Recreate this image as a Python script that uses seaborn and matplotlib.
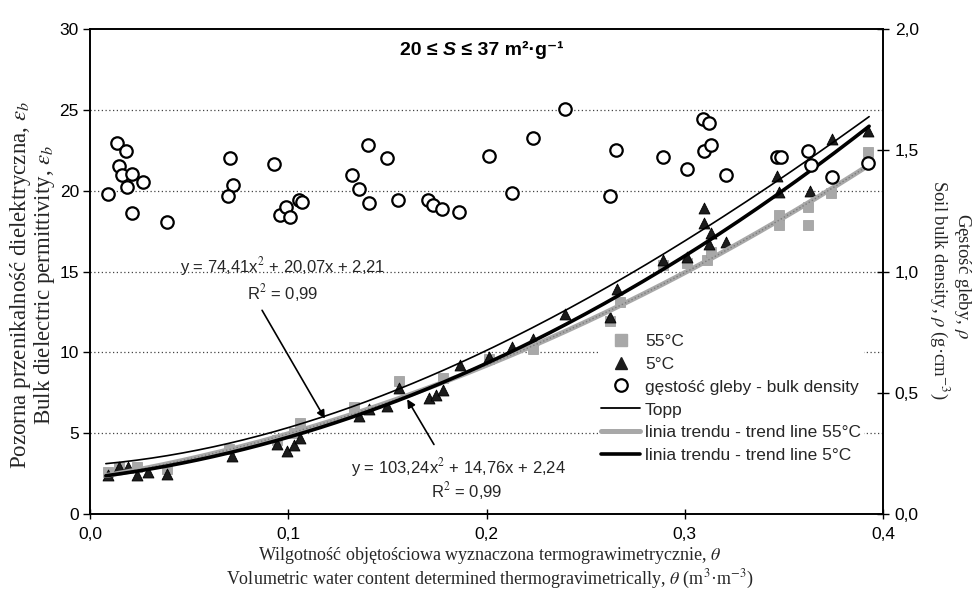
import numpy as np
import pandas as pd
import seaborn as sns
import matplotlib
matplotlib.use("Agg")
import matplotlib.pyplot as plt
from matplotlib.lines import Line2D
from matplotlib.offsetbox import TextArea, HPacker, AnchoredOffsetbox
from matplotlib.ticker import FuncFormatter

sns.set_theme(style="white")
plt.rcParams["font.family"] = ["Liberation Sans", "DejaVu Sans"]
plt.rcParams["mathtext.fontset"] = "stix"

# ---------------- data ----------------
theta_55 = [0.0092, 0.0146, 0.0235, 0.039, 0.0699, 0.0943, 0.1027, 0.106, 0.1332,
            0.156, 0.178, 0.2014, 0.2236, 0.2623, 0.2673, 0.289, 0.301, 0.311,
            0.3131, 0.3477, 0.3477, 0.3623, 0.3623, 0.3736, 0.3926]
eps_55 = [2.6, 2.9, 2.9, 2.8, 4.0, 4.6, 5.0, 5.6, 6.6,
          8.2, 8.4, 9.6, 10.2, 11.96, 13.1, 15.4, 15.5, 15.7,
          16.2, 18.5, 17.87, 19.0, 17.87, 19.83, 22.42]

theta_5 = [0.0092, 0.0146, 0.0194, 0.0235, 0.0294, 0.039, 0.0716, 0.0943, 0.0993,
           0.1027, 0.106, 0.1357, 0.1407, 0.15, 0.156, 0.1712, 0.1745, 0.1779,
           0.1866, 0.2014, 0.2127, 0.2236, 0.2396, 0.2623, 0.2657, 0.2889, 0.301,
           0.3097, 0.3097, 0.3124, 0.3131, 0.3208, 0.3467, 0.3477, 0.3632, 0.3741,
           0.3926]
eps_5 = [2.4, 2.9, 2.9, 2.4, 2.6, 2.5, 3.6, 4.3, 3.9,
         4.25, 4.7, 6.06, 6.5, 6.7, 7.77, 7.2, 7.35, 7.66,
         9.2, 9.7, 10.3, 10.8, 12.4, 12.2, 13.9, 15.7, 15.9,
         18.9, 18.0, 16.7, 17.4, 16.8, 20.9, 19.9, 20.0, 23.2,
         23.7]

theta_rho = [0.0092, 0.0135, 0.018, 0.0146, 0.0161, 0.021, 0.0188, 0.0269, 0.021,
             0.039, 0.0706, 0.0723, 0.0695, 0.093, 0.0958, 0.0989, 0.1009, 0.1056,
             0.1068, 0.1323, 0.1358, 0.1404, 0.1409, 0.15, 0.1555, 0.1706, 0.1729,
             0.1777, 0.1863, 0.2013, 0.213, 0.2235, 0.2398, 0.2621, 0.2655, 0.2889,
             0.301, 0.3094, 0.3124, 0.3097, 0.3134, 0.3207, 0.3464, 0.3484, 0.3623,
             0.3635, 0.3741, 0.3926]
rho = [1.321, 1.531, 1.497, 1.434, 1.400, 1.404, 1.347, 1.368, 1.241,
       1.206, 1.469, 1.358, 1.310, 1.445, 1.234, 1.264, 1.224, 1.296,
       1.285, 1.400, 1.341, 1.521, 1.282, 1.466, 1.296, 1.296, 1.275,
       1.259, 1.245, 1.478, 1.325, 1.549, 1.669, 1.313, 1.501, 1.474,
       1.423, 1.628, 1.614, 1.495, 1.522, 1.398, 1.474, 1.474, 1.495,
       1.439, 1.389, 1.449]

# trend-line coefficients as printed on the chart (highest power first)
fit_55 = [74.41, 20.07, 2.21]
fit_5 = [103.24, 14.76, 2.24]
topp_coef = [-76.7, 146.0, 9.3, 3.03]

x_ticks = [0.0, 0.1, 0.2, 0.3, 0.4]
y_ticks = [0, 5, 10, 15, 20, 25, 30]
y2_ticks = [0.0, 0.5, 1.0, 1.5, 2.0]

# ---------------- figure ----------------
W, H = 974, 591
fig = plt.figure(figsize=(W / 100, H / 100), dpi=100)
L, R, T, B = 90, 883, 29, 514
ax = fig.add_axes([L / W, 1 - B / H, (R - L) / W, (B - T) / H])
ax2 = ax.twinx()

gray = "#a8a8a8"
dark = "#1c1c1c"

df55 = pd.DataFrame({"theta": theta_55, "eps": eps_55})
df5 = pd.DataFrame({"theta": theta_5, "eps": eps_5})
dfr = pd.DataFrame({"theta": theta_rho, "rho": rho})

sns.scatterplot(data=df55, x="theta", y="eps", ax=ax, marker="s", s=62,
                color=gray, edgecolor="#999999", linewidth=0.5, zorder=3, legend=False)
sns.scatterplot(data=df5, x="theta", y="eps", ax=ax, marker="^", s=62,
                color=dark, edgecolor="black", linewidth=0.6, zorder=4, legend=False)

th = np.linspace(0.008, 0.393, 200)
lines = pd.DataFrame({
    "theta": th,
    "t55": np.polyval(fit_55, th),
    "t5": np.polyval(fit_5, th),
    "topp": np.polyval(topp_coef, th),
})
sns.lineplot(data=lines, x="theta", y="t55", ax=ax, color=gray, lw=3.6, zorder=5)
sns.lineplot(data=lines, x="theta", y="t55", ax=ax, color="#7c7c7c", lw=1.0,
             ls=(0, (1, 1.6)), zorder=5)
sns.lineplot(data=lines, x="theta", y="t5", ax=ax, color="black", lw=2.6, zorder=6)
sns.lineplot(data=lines, x="theta", y="topp", ax=ax, color="black", lw=1.2, zorder=6)

sns.scatterplot(data=dfr, x="theta", y="rho", ax=ax2, marker="o", s=80,
                facecolor="white", edgecolor="black", linewidth=1.6, zorder=5, legend=False)

# ---------------- axes ----------------
ax.set_xlim(0, 0.4)
ax.set_ylim(0, 30)
ax2.set_ylim(0, 2.0)
ax.set_xticks(x_ticks)
ax.set_yticks(y_ticks)
ax2.set_yticks(y2_ticks)
comma1 = FuncFormatter(lambda v, p: f"{v:.1f}".replace(".", ","))
ax.xaxis.set_major_formatter(comma1)
ax2.yaxis.set_major_formatter(comma1)
ax.yaxis.set_major_formatter(FuncFormatter(lambda v, p: f"{v:.0f}"))
ax.set_xlabel("")
ax.set_ylabel("")
ax2.set_ylabel("")

for a in (ax, ax2):
    for s in a.spines.values():
        s.set_color("black")
        s.set_linewidth(1.2)
        s.set_visible(True)

ax.tick_params(axis="y", direction="out", length=5, width=1, labelsize=12.5, pad=3,
               left=True, colors="black")
ax.tick_params(axis="x", direction="inout", length=7, width=1, labelsize=12.5, pad=6,
               bottom=True, colors="black")
ax2.tick_params(axis="y", direction="inout", length=9, width=1, labelsize=12.5, pad=4,
                right=True, colors="black")

ax.grid(False)
ax2.grid(False)
for yv in y_ticks[1:-1]:
    ax.axhline(yv, color="#444444", lw=0.9, ls=(0, (1, 2)), zorder=1)

# ---------------- annotations ----------------
arrow = dict(arrowstyle="-|>", color="black", lw=1.2, mutation_scale=12,
             shrinkA=0, shrinkB=0)
ax.annotate("", xy=(0.1185, 5.9), xytext=(0.0868, 12.6), arrowprops=arrow)
ax.text(0.0974, 15.3, "y = 74,41x$^2$ + 20,07x + 2,21", fontsize=12, ha="center", va="center")
ax.text(0.0974, 13.7, "R$^2$ = 0,99", fontsize=12, ha="center", va="center")

ax.annotate("", xy=(0.160, 7.1), xytext=(0.1735, 4.3), arrowprops=arrow)
ax.text(0.186, 2.85, "y = 103,24x$^2$ + 14,76x + 2,24", fontsize=12, ha="center", va="center")
ax.text(0.190, 1.45, "R$^2$ = 0,99", fontsize=12, ha="center", va="center")

# ---------------- title ----------------
tkw = dict(fontsize=14, fontweight="bold", color="black",
           family=["Liberation Sans", "DejaVu Sans"])
packer = HPacker(children=[
    TextArea("20 \u2264 ", textprops=tkw),
    TextArea("S", textprops=dict(tkw, style="italic")),
    TextArea(" \u2264 37 m\u00b2\u00b7g\u207b\u00b9", textprops=tkw),
], align="baseline", pad=0, sep=0)
ab = AnchoredOffsetbox(loc="center", child=packer, frameon=False,
                       bbox_to_anchor=(482 / W, 1 - 50 / H), bbox_transform=fig.transFigure,
                       pad=0, borderpad=0)
ax2.add_artist(ab)

# ---------------- legend ----------------
handles = [
    Line2D([], [], marker="s", ls="none", color=gray, markersize=9),
    Line2D([], [], marker="^", ls="none", color=dark, markersize=9),
    Line2D([], [], marker="o", ls="none", markerfacecolor="white",
           markeredgecolor="black", markeredgewidth=1.6, markersize=9),
    Line2D([], [], color="black", lw=1.3),
    Line2D([], [], color=gray, lw=3.6),
    Line2D([], [], color="black", lw=2.6),
]
labels = ["55°C", "5°C", "gęstość gleby - bulk density", "Topp",
          "linia trendu - trend line 55°C", "linia trendu - trend line 5°C"]
leg = ax2.legend(handles, labels, loc="upper left",
                 bbox_to_anchor=(598 / W, 1 - 330 / H), bbox_transform=fig.transFigure,
                 frameon=True, fancybox=False, framealpha=1, facecolor="white",
                 edgecolor="none", fontsize=12.5, handlelength=2.2, handletextpad=0.3,
                 labelspacing=0.45, borderpad=0.2, borderaxespad=0)
leg.set_zorder(10)

# ---------------- axis titles ----------------
serif = ["Liberation Serif", "DejaVu Serif"]
fig.text(21 / W, 1 - 285 / H, "Pozorna przenikalność dielektryczna, $\\varepsilon_b$",
         rotation=90, ha="center", va="center", fontsize=16.5, family=serif)
fig.text(45 / W, 1 - 285 / H, "Bulk dielectric permittivity, $\\varepsilon_b$",
         rotation=90, ha="center", va="center", fontsize=16.5, family=serif)
fig.text(962 / W, 1 - 276 / H, "Gęstość gleby, $\\rho$",
         rotation=-90, ha="center", va="center", fontsize=13.5, family=serif)
fig.text(940 / W, 1 - 290 / H, "Soil bulk density, $\\rho$ (g·cm$^{-3}$)",
         rotation=-90, ha="center", va="center", fontsize=13.5, family=serif)
fig.text(490 / W, 1 - 556 / H,
         "Wilgotność objętościowa wyznaczona termograwimetrycznie, $\\theta$",
         ha="center", va="center", fontsize=13, family=serif)
fig.text(490 / W, 1 - 579 / H,
         "Volumetric water content determined thermogravimetrically, $\\theta$ (m$^3$·m$^{-3}$)",
         ha="center", va="center", fontsize=13, family=serif)

fig.savefig("out.png", dpi=100)
